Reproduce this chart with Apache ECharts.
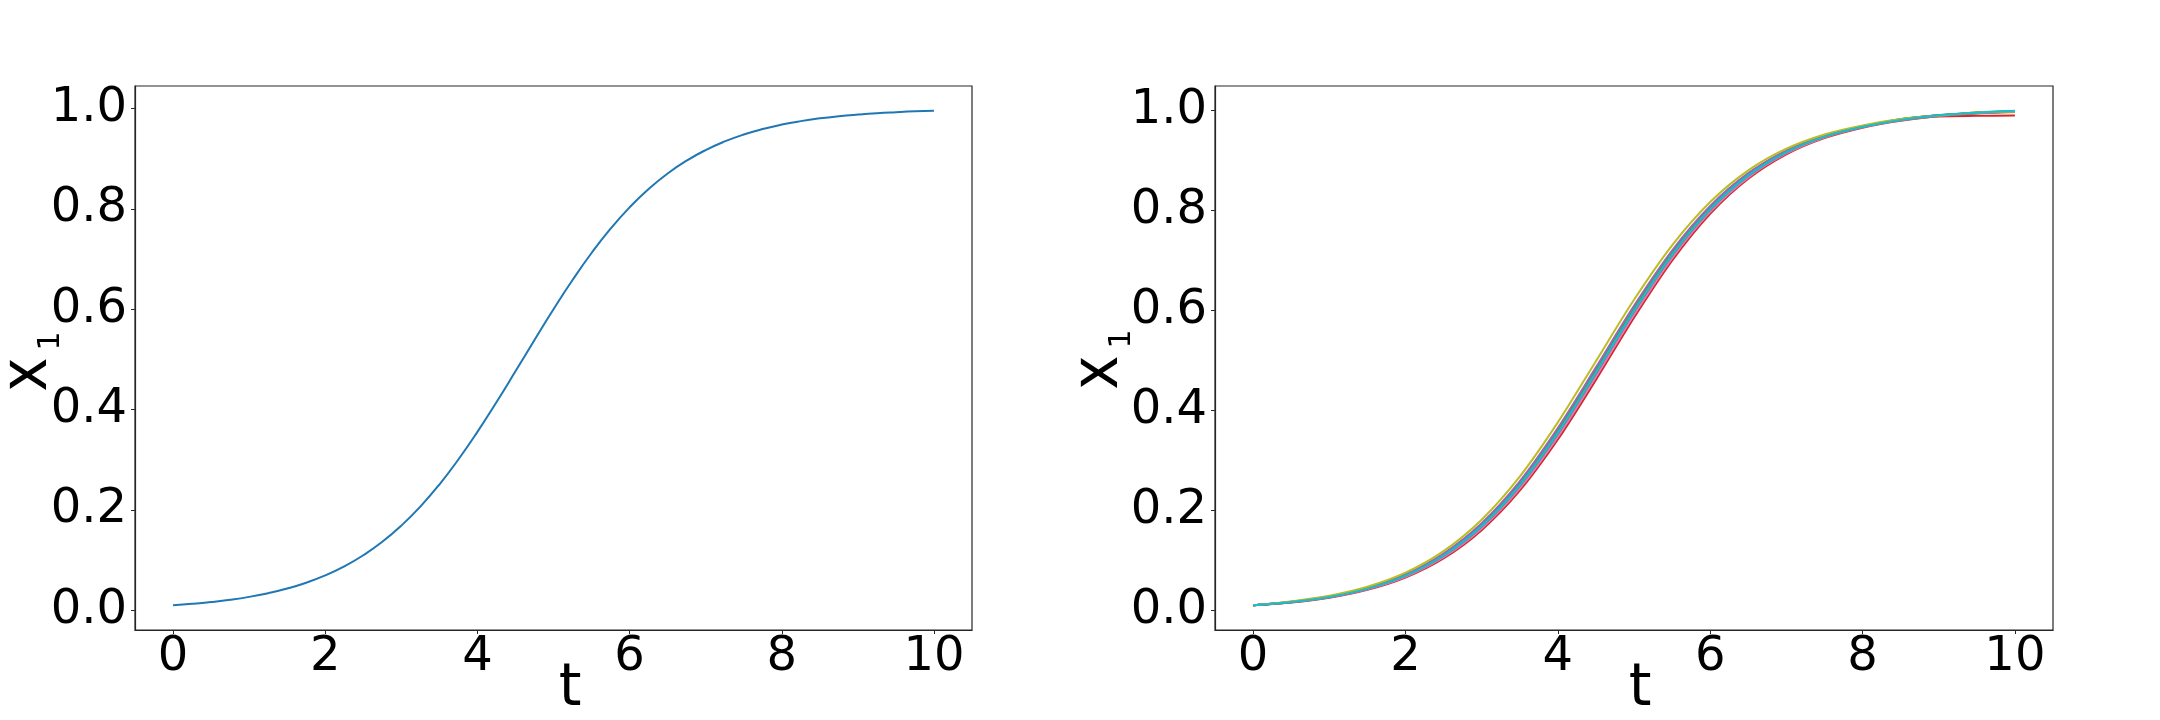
<!DOCTYPE html>
<html>
<head>
<meta charset="utf-8">
<script src="https://cdn.jsdelivr.net/npm/echarts@6/dist/echarts.min.js"></script>
<style>
html,body{margin:0;padding:0;background:#fff;}
#chart{width:2160px;height:720px;}
</style>
</head>
<body>
<div id="chart"></div>
<script>
// ---------- data ----------
const xTicks = [0, 2, 4, 6, 8, 10];
const yTicks = [0, 0.2, 0.4, 0.6, 0.8, 1.0];

// left panel: single trajectory (read at t step 0.25)
const tLeft = [0,0.25,0.5,0.75,1,1.25,1.5,1.75,2,2.25,2.5,2.75,3,3.25,3.5,3.75,4,4.25,4.5,4.75,5,5.25,5.5,5.75,6,6.25,6.5,6.75,7,7.25,7.5,7.75,8,8.25,8.5,8.75,9,9.25,9.5,9.75,10];
const x1Left = [0.0100,0.0128,0.0164,0.0209,0.0267,0.0341,0.0433,0.0549,0.0694,0.0874,0.1096,0.1364,0.1687,0.2067,0.2506,0.3005,0.3555,0.4146,0.4762,0.5386,0.5999,0.6581,0.7120,0.7604,0.8030,0.8396,0.8705,0.8961,0.9172,0.9343,0.9481,0.9591,0.9679,0.9748,0.9803,0.9846,0.9879,0.9906,0.9926,0.9943,0.9955];

// right panel: ten trajectories (read at t step 0.5)
const tRight = [0,0.5,1,1.5,2,2.5,3,3.5,4,4.5,5,5.5,6,6.5,7,7.5,8,8.5,9,9.5,10];
const runBlue   = [0.0100,0.0167,0.0272,0.0441,0.0707,0.1116,0.1715,0.2544,0.3601,0.4812,0.6047,0.7161,0.8062,0.8728,0.9187,0.9491,0.9685,0.9826,0.9908,0.9951,0.9993];
const runOrange = [0.0100,0.0169,0.0275,0.0445,0.0713,0.1125,0.1729,0.2562,0.3624,0.4837,0.6071,0.7182,0.8077,0.8739,0.9195,0.9496,0.9688,0.9818,0.9897,0.9964,0.9982];
const runGreen  = [0.0100,0.0166,0.0270,0.0437,0.0700,0.1106,0.1701,0.2525,0.3578,0.4787,0.6023,0.7141,0.8046,0.8716,0.9180,0.9486,0.9682,0.9831,0.9902,0.9967,0.9988];
const runRed    = [0.0100,0.0154,0.0251,0.0408,0.0655,0.1037,0.1603,0.2393,0.3418,0.4612,0.5855,0.6997,0.7935,0.8637,0.9126,0.9451,0.9660,0.9800,0.9885,0.9898,0.9902];
const runPurple = [0.0100,0.0170,0.0277,0.0450,0.0720,0.1135,0.1743,0.2581,0.3647,0.4862,0.6095,0.7202,0.8093,0.8750,0.9202,0.9501,0.9691,0.9822,0.9913,0.9958,0.9991];
const runBrown  = [0.0100,0.0161,0.0262,0.0425,0.0681,0.1076,0.1659,0.2468,0.3509,0.4712,0.5951,0.7079,0.7998,0.8682,0.9157,0.9471,0.9673,0.9828,0.9909,0.9949,0.9976];
const runPink   = [0.0100,0.0158,0.0258,0.0419,0.0671,0.1062,0.1638,0.2440,0.3475,0.4675,0.5915,0.7048,0.7975,0.8666,0.9145,0.9464,0.9668,0.9807,0.9893,0.9952,0.9979];
const runGray   = [0.0100,0.0162,0.0264,0.0429,0.0688,0.1086,0.1673,0.2487,0.3532,0.4737,0.5975,0.7099,0.8014,0.8694,0.9164,0.9476,0.9676,0.9812,0.9895,0.9955,0.9984];
const runOlive  = [0.0100,0.0178,0.0290,0.0470,0.0752,0.1184,0.1813,0.2675,0.3761,0.4986,0.6215,0.7305,0.8172,0.8806,0.9240,0.9525,0.9707,0.9835,0.9905,0.9962,0.9985];
const runCyan   = [0.0100,0.0164,0.0267,0.0433,0.0694,0.1096,0.1687,0.2506,0.3555,0.4762,0.5999,0.7120,0.8030,0.8705,0.9172,0.9481,0.9679,0.9815,0.9911,0.9960,1.0000];

const rightRuns = [runBlue, runOrange, runGreen, runRed, runPurple, runBrown, runPink, runGray, runOlive, runCyan];
const runColors = ['#1f77b4','#ff7f0e','#2ca02c','#d62728','#9467bd','#8c564b','#e377c2','#7f7f7f','#bcbd22','#17becf'];

// ---------- chart ----------
const FONT = 'DejaVu Sans';
const SPINE = '#262626';

function pairs(ts, vs){ return ts.map((t,i)=>[t, vs[i]]); }

function xAxisFor(gi){
  return {
    gridIndex: gi, type: 'value', min: -0.5, max: 10.5,
    splitLine: {show:false},
    axisLine: {show:true, onZero:false, lineStyle:{color:SPINE, width:1.2}},
    axisTick: {show:true, customValues: xTicks, length:4, lineStyle:{color:SPINE, width:1}},
    axisLabel: {customValues: xTicks, fontSize:48, fontFamily:FONT, color:'#000', margin:4,
                formatter: v => String(v)}
  };
}
function yAxisFor(gi, mn, mx){
  return {
    gridIndex: gi, type: 'value', min: mn, max: mx,
    splitLine: {show:false},
    axisLine: {show:true, onZero:false, lineStyle:{color:SPINE, width:1.2}},
    axisTick: {show:true, customValues: yTicks, length:4, lineStyle:{color:SPINE, width:1}},
    axisLabel: {customValues: yTicks, fontSize:48, fontFamily:FONT, color:'#000', margin:8,
                formatter: v => v.toFixed(1)}
  };
}

const series = [{
  type:'line', xAxisIndex:0, yAxisIndex:0, data: pairs(tLeft, x1Left),
  showSymbol:false, smooth:true, lineStyle:{color:'#1f77b4', width:2}, z:3
}];
rightRuns.forEach((run, k) => {
  series.push({
    type:'line', xAxisIndex:1, yAxisIndex:1, data: pairs(tRight, run),
    showSymbol:false, smooth:0.3, lineStyle:{color:runColors[k], width:2}, z:3+k
  });
});

function labelTexts(tx, xx, xy, sx, sy){
  return [
    {type:'text', x:tx, y:690, style:{text:'t', font:'58px "DejaVu Sans"', fill:'#000', align:'center', verticalAlign:'middle'}},
    {type:'text', x:xx, y:xy, rotation:Math.PI/2, scaleY:1.15,
     style:{text:'x', font:'58px "DejaVu Sans"', fill:'#000', align:'center', verticalAlign:'middle'}},
    {type:'text', x:sx, y:sy, rotation:Math.PI/2,
     style:{text:'1', font:'30px "DejaVu Sans"', fill:'#000', align:'center', verticalAlign:'middle'}}
  ];
}

const option = {
  animation:false,
  backgroundColor:'#fff',
  grid:[
    {left:135, top:86, width:837, height:544, show:true, borderColor:SPINE, borderWidth:1.2, backgroundColor:'transparent'},
    {left:1215, top:86, width:838, height:544, show:true, borderColor:SPINE, borderWidth:1.2, backgroundColor:'transparent'}
  ],
  xAxis:[xAxisFor(0), xAxisFor(1)],
  yAxis:[yAxisFor(0, -0.0393, 1.0448), yAxisFor(1, -0.0395, 1.0495)],
  series: series,
  graphic: [].concat(labelTexts(570, 29, 374.7, 51, 341), labelTexts(1640, 1100, 372.5, 1122, 339))
};

const chart = echarts.init(document.getElementById('chart'), null, {renderer:'canvas'});
chart.setOption(option);
</script>
</body>
</html>
